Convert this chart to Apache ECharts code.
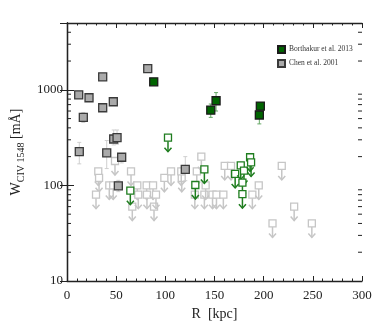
<!DOCTYPE html>
<html><head><meta charset="utf-8">
<script src="https://cdn.jsdelivr.net/npm/echarts@6/dist/echarts.min.js"></script>
<style>html,body{margin:0;padding:0;background:#fff}#c{width:382px;height:327px}</style>
</head><body><div id="c"></div>
<script>
// Chen et al. 2001 detections [R kpc, W mA]
const chenDet = [[11.9,887],[16.6,514],[22.4,826],[36.3,1366],[36.3,649],[47.1,750],[82.1,1667],
  [12.5,226],[40.4,219],[47.5,306],[50.9,316],[55.6,197],[52.2,99],[120.3,147]];
// Chen error bars [R, low, high]
const chenErr = [[16.6,455,580],[12.5,168,282],[40.4,150,295],[47.5,265,380],[50.9,270,380],[55.6,172,215],[52.2,86,113],[120.3,112,200]];
// Chen upper limits [R, W]
const chenUL = [[31.8,140],[32.6,120],[29.5,80],[48.8,180],[43,100],[47,100],[65.1,140],[66.4,60],[71.5,100],[72.5,80],
  [81,100],[81.3,80],[87.5,100],[88.5,60],[90.5,80],[99,120],[105.8,140],[116.7,120],[116.2,140],[130,80],[132,140],
  [136.6,200],[139.7,80],[141,100],[148,80],[152,80],[159,80],[160.4,160],[166.8,160],[188.5,80],[195,100],[218.4,160],
  [209,40],[231,60],[249,40]];
// Borthakur et al. 2013 detections
const borDet = [[88.2,1212],[146.2,614],[151.6,768],[196.6,676],[195.6,545]];
const borErr = [[146.2,515,710],[151.6,600,935],[195.6,440,600]];
// Borthakur upper limits
const borUL = [[102.7,316],[64.4,88],[130.5,101],[139.7,147],[171,132],[176.7,162],[180,143],[178.4,107],[178.4,81],[186.2,197],[187.2,174]];
// axis ticks
const xTicks = [0,50,100,150,200,250,300];
const minorLogTicks = [20,30,40,50,60,70,80,90,200,300,400,500,600,700,800,900,2000,3000,4000];

const FONT = 'Liberation Serif';
function ulRender(color){
  return function(params, api){
    const p = api.coord([api.value(0), api.value(1)]);
    const s = 3.5;
    return {type:'group', children:[
      {type:'line', shape:{x1:p[0],y1:p[1]+s,x2:p[0],y2:p[1]+14}, style:{stroke:color,lineWidth:1.5}},
      {type:'polyline', shape:{points:[[p[0]-3.5,p[1]+10],[p[0],p[1]+14],[p[0]+3.5,p[1]+10]]}, style:{stroke:color,lineWidth:1.5,fill:null}},
      {type:'rect', shape:{x:p[0]-s,y:p[1]-s,width:2*s,height:2*s}, style:{stroke:color,fill:'#fff',lineWidth:1.3}}
    ]};
  };
}
function errRender(color){
  return function(params, api){
    const a = api.coord([api.value(0), api.value(1)]);
    const b = api.coord([api.value(0), api.value(2)]);
    const st = {stroke:color, lineWidth:1};
    return {type:'group', children:[
      {type:'line', shape:{x1:a[0],y1:a[1],x2:b[0],y2:b[1]}, style:st},
      {type:'line', shape:{x1:a[0]-2,y1:a[1],x2:a[0]+2,y2:a[1]}, style:st},
      {type:'line', shape:{x1:b[0]-2,y1:b[1],x2:b[0]+2,y2:b[1]}, style:st}
    ]};
  };
}
const chart = echarts.init(document.getElementById('c'), null, {renderer:'canvas'});
const axisLine = {lineStyle:{color:'#222', width:1.3}};
chart.setOption({
  animation:false,
  grid:{left:67,right:20,top:23,bottom:46},
  legend:{
    left:272, top:40, orient:'vertical', itemWidth:7, itemHeight:7, itemGap:5, icon:'rect', selectedMode:false,
    textStyle:{fontFamily:FONT, fontSize:7.5, color:'#333', padding:[0,0,0,-1]},
    data:['Borthakur et al. 2013','Chen et al. 2001']
  },
  xAxis:[{
    type:'value', min:0, max:300, interval:50, position:'bottom',
    name:'R  [kpc]', nameLocation:'middle', nameGap:23,
    nameTextStyle:{fontFamily:FONT, fontSize:14, color:'#222'},
    axisLine:axisLine, splitLine:{show:false},
    axisTick:{inside:true, length:5, lineStyle:{color:'#222'}},
    minorTick:{show:true, splitNumber:5, length:2.5, lineStyle:{color:'#222'}},
    axisLabel:{fontFamily:FONT, fontSize:13, color:'#222', margin:8, formatter:v=>xTicks.includes(v)?String(v):''}
  },{
    type:'value', min:0, max:300, interval:50, position:'top',
    axisLine:axisLine, splitLine:{show:false},
    axisTick:{inside:true, length:5, lineStyle:{color:'#222'}},
    minorTick:{show:true, splitNumber:5, length:2.5, lineStyle:{color:'#222'}},
    axisLabel:{show:false}
  }],
  yAxis:[{
    type:'log', logBase:10, min:10, max:5000, position:'left',
    name:'{a|W}{b|CIV 1548}{a| [mÅ]}', nameLocation:'middle', nameGap:36, nameRotate:90,
    nameTextStyle:{fontFamily:FONT, color:'#222', rich:{
      a:{fontFamily:FONT, fontSize:14, color:'#222', lineHeight:20},
      b:{fontFamily:FONT, fontSize:10, color:'#222', lineHeight:10, verticalAlign:'bottom'}
    }},
    axisLine:axisLine, splitLine:{show:false},
    axisTick:{inside:true, length:7, lineStyle:{color:'#222'}},
    axisLabel:{fontFamily:FONT, fontSize:13, color:'#222', margin:4, showMaxLabel:false,
      formatter:v=>([10,100,1000].includes(Math.round(v))?String(Math.round(v)):'')}
  },{
    type:'log', logBase:10, min:10, max:5000, position:'right',
    axisLine:axisLine, splitLine:{show:false},
    axisTick:{inside:true, length:7, lineStyle:{color:'#222'}},
    axisLabel:{show:false}
  }],
  series:[
    {type:'custom', silent:true, data:minorLogTicks.map(v=>[0,v]), z:5,
      renderItem:function(params, api){
        const l = api.coord([0, api.value(1)]);
        const r = api.coord([300, api.value(1)]);
        const st = {stroke:'#222', lineWidth:1};
        return {type:'group', children:[
          {type:'line', shape:{x1:l[0],y1:l[1],x2:l[0]+4,y2:l[1]}, style:st},
          {type:'line', shape:{x1:r[0]-4,y1:r[1],x2:r[0],y2:r[1]}, style:st}
        ]};
      }},
    {type:'custom', silent:true, data:chenUL, renderItem:ulRender('#c6c6c6'), z:2},
    {type:'custom', silent:true, data:chenErr, renderItem:errRender('#cfcfcf'), z:2},
    {type:'custom', silent:true, data:borUL, renderItem:ulRender('#1f7d1f'), z:3},
    {type:'custom', silent:true, data:borErr, renderItem:errRender('#66a866'), z:3},
    {name:'Chen et al. 2001', type:'scatter', data:chenDet, symbol:'rect', symbolSize:8, z:4,
      itemStyle:{color:'#aaaaaa', borderColor:'#3a3a3a', borderWidth:1.3, opacity:1}},
    {name:'Borthakur et al. 2013', type:'scatter', data:borDet, symbol:'rect', symbolSize:8, z:4,
      itemStyle:{color:'#006400', borderColor:'#1a1a1a', borderWidth:1.3, opacity:1}}
  ]
});
</script></body></html>
